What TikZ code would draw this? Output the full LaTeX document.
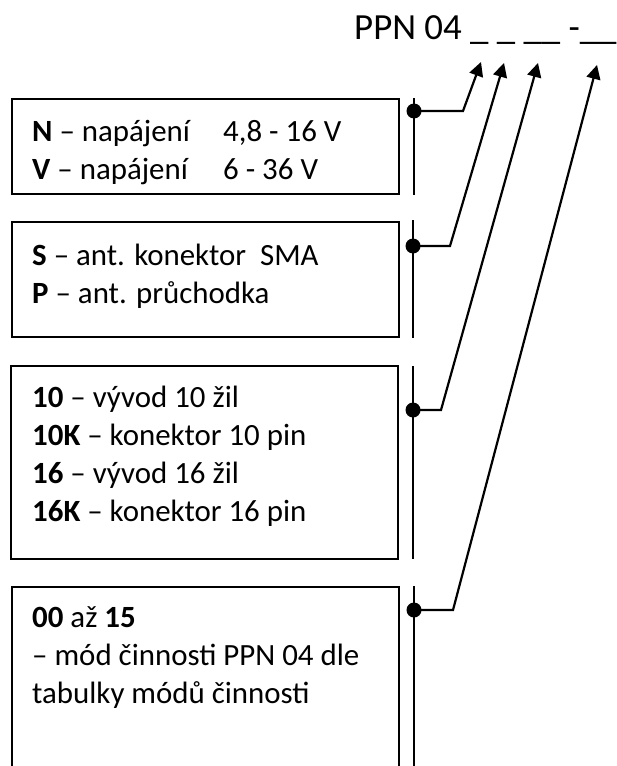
\documentclass[tikz,border=0pt]{standalone}
\usepackage{fontspec}
\setmainfont{Carlito}
\usetikzlibrary{arrows.meta}
\tikzset{
	box/.style={line width=2.8bp},
	bar/.style={line width=2.3bp},
	lead/.style={line width=2.2bp, -{Triangle[length=14bp,width=14bp]}},
	txt/.style={anchor=base west, inner sep=0pt, font=\fontsize{31}{38}\selectfont},
}

\begin{document}
\begin{tikzpicture}[x=1bp, y=-1bp]
		%%%%% START %%%%%
		\useasboundingbox (0,0) rectangle (617,766);
		
		\node[txt, font=\fontsize{37}{44}\selectfont] (code) at (354,40) {PPN 04 \_ \_ \_\_ -\_\_};
		
		\coordinate (t1) at (481,62);
		\coordinate (t2) at (504,63);
		\coordinate (t3) at (538,63);
		\coordinate (t4) at (597,65);
		
		\draw[box] (12,99) rectangle (399,194);
		\node[txt] (n1) at (32,141) {\makebox[191bp][l]{\textbf{N} – napájení}4,8 - 16 V};
		\node[txt] (v1) at (32,179) {\makebox[191bp][l]{\textbf{V} – napájení}6 - 36 V};
		
		\draw[box] (12,222) rectangle (399,337);
		\node[txt] (s2) at (32,265) {\textbf{S} – ant. konektor\ \ SMA};
		\node[txt] (p2) at (32,303) {\textbf{P} – ant. průchodka};
		
		\draw[box] (11,366) rectangle (398,559);
		\node[txt] (w10) at (32,407) {\textbf{10} – vývod 10 žil};
		\node[txt] (k10) at (32,445) {\textbf{10K} – konektor 10 pin};
		\node[txt] (w16) at (32,483) {\textbf{16} – vývod 16 žil};
		\node[txt] (k16) at (32,521) {\textbf{16K} – konektor 16 pin};
		
		\draw[box] (12,770) |- (399,587) -- (399,770);
		\node[txt] (m1) at (32,627) {\textbf{00} až \textbf{15}};
		\node[txt] (m2) at (32,665) {– mód činnosti PPN 04 dle};
		\node[txt] (m3) at (32,703) {tabulky módů činnosti};
		
		\draw[bar] (414,98) -- (414,195);
		\draw[bar] (413,220) -- (413,338);
		\draw[bar] (413,366) -- (413,559);
		\draw[bar] (414,586) -- (414,770);
		
		\coordinate (d1) at (414,111);
		\coordinate (d2) at (413,246);
		\coordinate (d3) at (413,410);
		\coordinate (d4) at (414,610);
		\fill (d1) circle (7.5bp);
		\fill (d2) circle (7.5bp);
		\fill (d3) circle (7.5bp);
		\fill (d4) circle (7.5bp);
		
		\draw[lead] (d1) -- (463,111) -- (t1);
		\draw[lead] (d2) -- (450,246) -- (t2);
		\draw[lead] (d3) -- (441,410) -- (t3);
		\draw[lead] (d4) -- (453,610) -- (t4);
		
		%%%%% END %%%%%
\end{tikzpicture}
\end{document}
